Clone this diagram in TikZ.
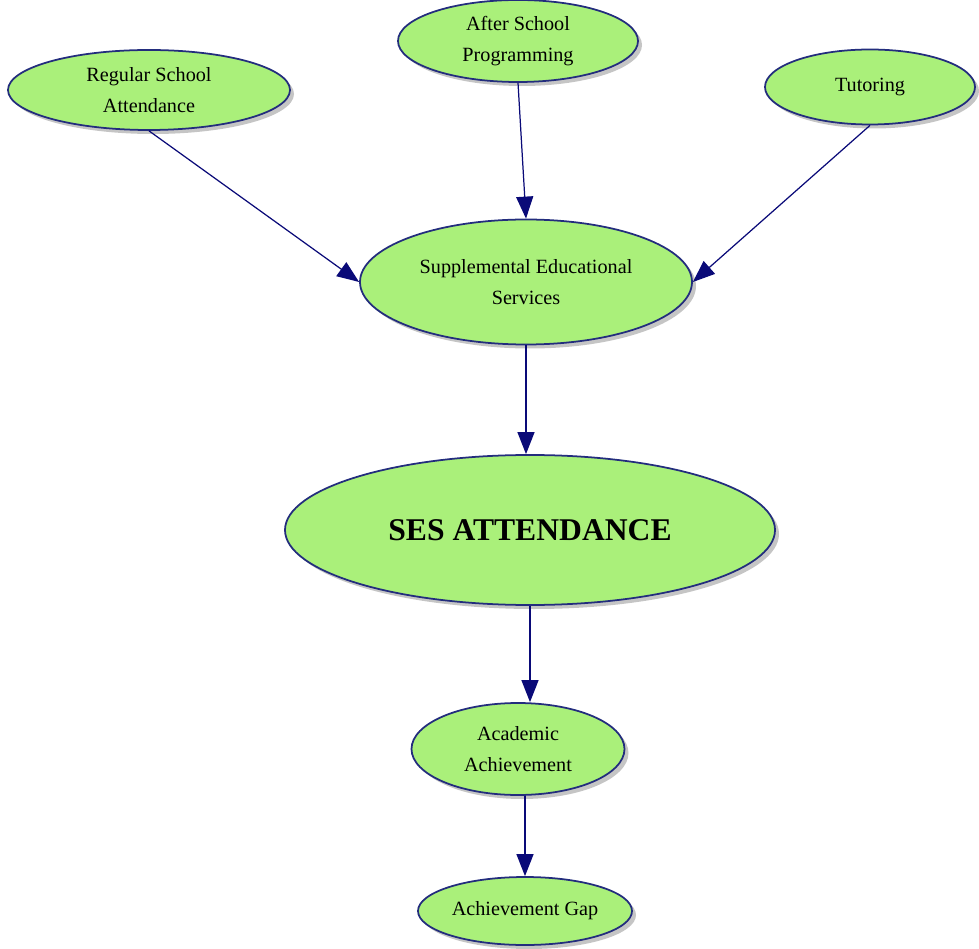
\documentclass[tikz,border=0pt]{standalone}
\usepackage{fontspec}
\setmainfont{Liberation Serif}
\usepackage{tikz}
\usetikzlibrary{shapes.geometric, shadows, arrows.meta}
\definecolor{bubblegreen}{RGB}{170,240,122}
\definecolor{bubbleedge}{RGB}{35,45,125}
\definecolor{arrownavy}{RGB}{10,10,120}

\begin{document}
\begin{tikzpicture}[
  bubble/.style={draw=bubbleedge, line width=1pt, ellipse, fill=bubblegreen, inner sep=0pt,
    align=center, font=\fontsize{11.5}{18}\selectfont,
    drop shadow={shadow xshift=0.08cm, shadow yshift=-0.08cm, fill=black!45}},
  link/.style={draw=arrownavy, line width=0.7pt, -{Triangle[length=0.44cm, width=0.34cm]}}]
\useasboundingbox (0,0) rectangle (19.58,18.96);
\node[bubble, minimum width=5.64cm, minimum height=1.6cm] (regular) at (2.98,17.16) {Regular School\\Attendance};
\node[bubble, minimum width=4.8cm, minimum height=1.64cm] (afterschool) at (10.36,18.14) {After School\\Programming};
\node[bubble, minimum width=4.2cm, minimum height=1.5cm] (tutoring) at (17.40,17.22) {Tutoring};
\node[bubble, minimum width=6.64cm, minimum height=2.5cm] (supplemental) at (10.52,13.32) {Supplemental Educational\\Services};
\node[bubble, minimum width=9.8cm, minimum height=3.0cm, font=\fontsize{18}{22}\selectfont\bfseries] (attendance) at (10.60,8.36) {SES ATTENDANCE};
\node[bubble, minimum width=4.26cm, minimum height=1.84cm] (academic) at (10.36,3.98) {Academic\\Achievement};
\node[bubble, minimum width=4.28cm, minimum height=1.36cm] (gap) at (10.50,0.74) {Achievement Gap};
\draw[link] (regular.south) -- (supplemental.west);
\draw[link] (afterschool.south) -- (supplemental.north);
\draw[link] (tutoring.south) -- (supplemental.east);
\draw[link] (supplemental.south) -- (supplemental.south |- attendance.north);
\draw[link] (attendance.south) -- (attendance.south |- academic.north);
\draw[link] (academic.south -| gap.north) -- (gap.north);
\end{tikzpicture}
\end{document}
